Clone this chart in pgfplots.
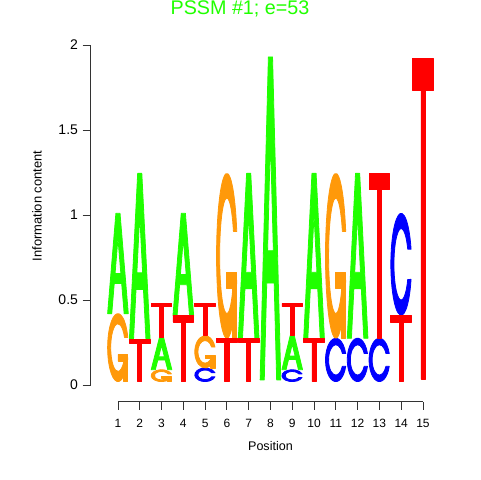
\documentclass[border=0pt]{standalone}
\usepackage{pgfplots}
\pgfplotsset{compat=1.18}
\usepackage{pgfplotstable}
\usepackage{fontspec}
\setmainfont{Liberation Sans}
\newdimen\logounit \logounit=127.5pt
\newdimen\logoh
\newdimen\logow \logow=15.5pt
\definecolor{cA}{RGB}{32,255,0}
\definecolor{cC}{RGB}{0,0,255}
\definecolor{cG}{RGB}{255,153,10}
\definecolor{cT}{RGB}{255,0,0}
\tikzset{letterstyle/.style={fill=#1, draw=#1, line width=0.6pt, line join=round}}
\newcommand\shapeA{\filldraw[letterstyle=cA, even odd rule] (0,0)--(0.4,1)--(0.6,1)--(1,0)--(0.8,0)--(0.68,0.3)--(0.32,0.3)--(0.2,0)--cycle (0.36,0.4)--(0.5,0.75)--(0.64,0.4)--cycle;}
\newcommand\shapeC{\filldraw[letterstyle=cC] (0.978,0.352) arc[start angle=-17.19, end angle=-342.81, radius=0.5] -- (0.817,0.648) arc[start angle=25.02, end angle=334.98, radius=0.35] -- cycle;}
\newcommand\shapeG{\filldraw[letterstyle=cG] (0.978,0.352) arc[start angle=-17.19, end angle=-342.81, radius=0.5] -- (0.817,0.648) arc[start angle=25.02, end angle=334.98, radius=0.35] -- cycle;
  \filldraw[letterstyle=cG] (0.978,0.4)--(0.5,0.4)--(0.5,0.3)--(0.778,0.3)--(0.778,0)--(0.978,0)--cycle;}
\newcommand\shapeT{\filldraw[letterstyle=cT] (0,1)--(1,1)--(1,0.9)--(0.6,0.9)--(0.6,0)--(0.4,0)--(0.4,0.9)--(0,0.9)--cycle;}
\newcommand\logoletter[2]{\logoh=#2\logounit\relax\tikz[x=\logow,y=\logoh]{\useasboundingbox (0,0) rectangle (1,1); \csname shape#1\endcsname}}
\pgfplotsset{logo/.style={draw=none, mark=none,
  point meta=explicit symbolic,
  nodes near coords={\logoletter{#1}{\pgfplotspointmeta}},
  nodes near coords style={anchor=south, inner sep=0pt, outer sep=0pt}}}
\pgfplotstableread{
x y h
1 0.42 0.59
2 0.27 0.975
3 0.09 0.19
4 0.41 0.60
7 0.275 0.97
8 0.03 1.90
9 0.09 0.20
10 0.275 0.97
12 0.275 0.97
}\tabA
\pgfplotstableread{
x y h
5 0.02 0.08
9 0.02 0.07
11 0.02 0.255
12 0.02 0.255
13 0.02 0.255
14 0.41 0.60
}\tabC
\pgfplotstableread{
x y h
1 0.02 0.40
3 0.02 0.07
5 0.10 0.19
6 0.275 0.97
11 0.275 0.97
}\tabG
\pgfplotstableread{
x y h
2 0.02 0.25
3 0.28 0.20
4 0.02 0.39
5 0.29 0.19
6 0.02 0.255
7 0.02 0.255
9 0.29 0.19
10 0.02 0.255
13 0.275 0.97
14 0.02 0.39
15 0.035 1.885
}\tabT
\begin{document}
\begin{tikzpicture}
\useasboundingbox (-80.3pt,-71.25pt) rectangle (279.7pt,288.75pt);
\begin{axis}[
  at={(0,0)}, anchor=south west, scale only axis,
  width=245.1pt, height=255pt,
  xmin=0.5, xmax=15.5, ymin=0, ymax=2,
  axis x line*=bottom, axis y line*=left,
  axis x line shift=12.5pt, axis y line shift=12.3pt,
  x axis line style={-, shorten <=8.17pt, shorten >=8.17pt},
  y axis line style={-},
  axis line style={line width=0.6pt, black!80},
  xtick={1,...,15}, ytick={0,0.5,1,1.5,2},
  tick align=outside, major tick length=6pt,
  tick style={black!80, line width=0.6pt},
  /pgf/number format/assume math mode=true,
  xticklabel style={font=\fontsize{9}{10}\selectfont, yshift=-3.4pt},
  yticklabel style={font=\fontsize{10.5}{12}\selectfont},
  xlabel={Position}, ylabel={Information content},
  xlabel style={at={(axis description cs:0.5,-0.1784)}, anchor=center, font=\fontsize{9.4}{11}\selectfont},
  ylabel style={at={(axis description cs:-0.2146,0.5265)}, anchor=center, font=\fontsize{9.7}{11}\selectfont},
  clip=false,
]
\addplot[logo=A] table[x=x,y=y,meta=h] {\tabA};
\addplot[logo=C] table[x=x,y=y,meta=h] {\tabC};
\addplot[logo=G] table[x=x,y=y,meta=h] {\tabG};
\addplot[logo=T] table[x=x,y=y,meta=h] {\tabT};
\end{axis}
\node[text=cA, font=\fontsize{14.8}{17}\selectfont] at (99.7pt,282pt) {PSSM \#1; e=53};
\end{tikzpicture}
\end{document}
